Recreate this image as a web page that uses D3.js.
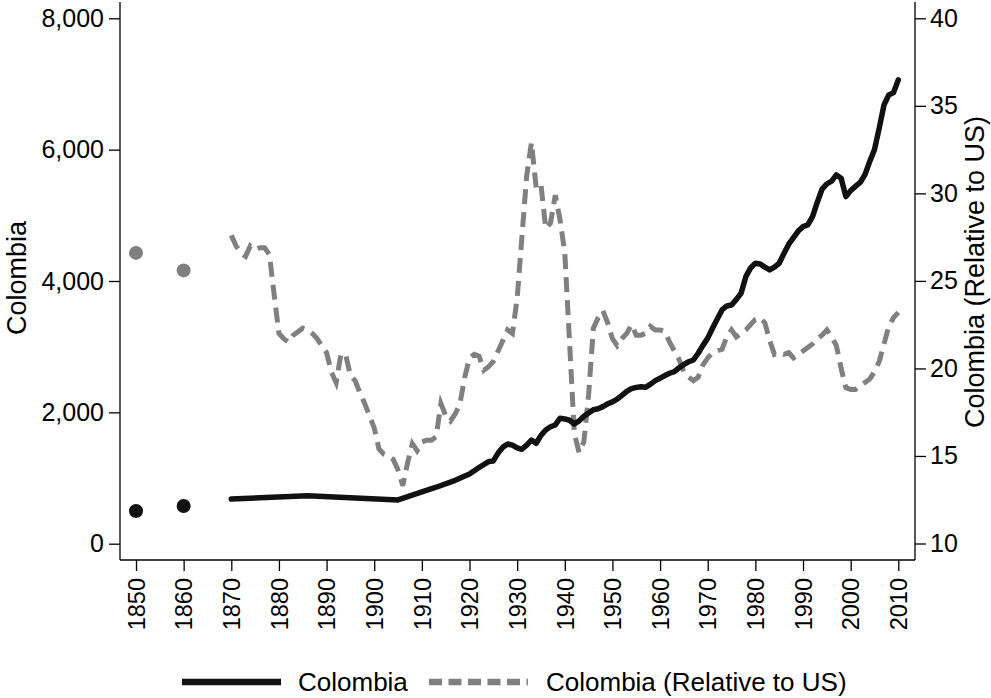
<!DOCTYPE html>
<html>
<head>
<meta charset="utf-8">
<script src="https://cdn.jsdelivr.net/npm/d3@7"></script>
<style>
  html, body { margin: 0; padding: 0; background: #fff; }
  svg { display: block; }
  text { font-family: "Liberation Sans", Arial, Helvetica, sans-serif; fill: #000; }
</style>
</head>
<body>
<svg id="chart" width="991" height="698"></svg>
<script>
// ---- Data ----
const pointYears = [1850, 1860];
const pointGdp = [498, 574];
const pointRel = [26.6, 25.6];

const gdpYears = [1870, 1886, 1905, 1910, 1913, 1917, 1920, 1922, 1924, 1925, 1926, 1927, 1928, 1929, 1930,
  1931, 1932, 1933, 1934, 1935, 1936, 1937, 1938, 1939, 1940, 1941, 1942, 1943, 1944, 1945, 1946, 1947, 1948,
  1949, 1950, 1951, 1952, 1953, 1954, 1955, 1956, 1957, 1958, 1959, 1960, 1961, 1962, 1963, 1964, 1965, 1966,
  1967, 1968, 1969, 1970, 1971, 1972, 1973, 1974, 1975, 1976, 1977, 1978, 1979, 1980, 1981, 1982, 1983, 1984,
  1985, 1986, 1987, 1988, 1989, 1990, 1991, 1992, 1993, 1994, 1995, 1996, 1997, 1998, 1999, 2000, 2001, 2002,
  2003, 2004, 2005, 2006, 2007, 2008, 2009, 2010];
const gdpValues = [680, 731, 666, 790, 860, 965, 1060, 1160, 1250, 1260, 1380, 1470, 1518, 1500, 1460,
  1438, 1500, 1579, 1529, 1650, 1732, 1780, 1808, 1910, 1900, 1880, 1823, 1870, 1940, 1990, 2040, 2055, 2087,
  2130, 2160, 2200, 2260, 2320, 2361, 2380, 2390, 2382, 2430, 2483, 2520, 2560, 2595, 2620, 2680, 2730, 2770,
  2798, 2900, 3020, 3130, 3280, 3420, 3560, 3620, 3635, 3720, 3813, 4066, 4200, 4270, 4260, 4210, 4168, 4210,
  4270, 4420, 4560, 4660, 4760, 4828, 4854, 4980, 5200, 5400, 5480, 5520, 5615, 5565, 5285, 5376, 5440, 5500,
  5620, 5820, 6000, 6330, 6681, 6833, 6868, 7062];

const relYears = d3.range(1870, 2011);
const relValues = [27.6, 27.0, 26.6, 26.4, 27.0, 26.8, 26.9, 26.9, 26.5, 24.2,
  22.0, 21.7, 21.5, 21.9, 22.1, 22.3, 22.2, 22.0, 21.7, 21.3,
  20.9, 19.8, 19.2, 20.8, 20.8, 19.6, 19.3, 18.6, 18.0, 17.3,
  16.6, 15.4, 15.1, 15.0, 14.8, 14.2, 13.3, 14.6, 15.7, 15.3,
  15.8, 15.9, 15.9, 16.1, 18.0, 17.3, 17.0, 17.4, 18.0, 19.5,
  20.6, 20.8, 20.7, 19.9, 20.1, 20.4, 21.0, 21.6, 22.2, 22.0,
  24.0, 27.5, 31.0, 32.9, 30.3, 30.5, 28.0, 28.3, 29.9, 28.5,
  26.6, 21.5, 16.3, 15.2, 15.8, 18.5, 22.3, 22.9, 23.3, 22.6,
  21.7, 21.3, 21.7, 22.0, 22.5, 21.9, 21.9, 22.0, 22.4, 22.2,
  22.2, 22.1, 21.5, 21.0, 20.5, 19.8, 19.5, 19.3, 19.5, 20.2,
  20.6, 20.9, 21.0, 21.1, 21.8, 22.2, 21.8, 22.0, 22.2, 22.5,
  22.8, 22.9, 22.6, 21.6, 20.8, 20.9, 20.8, 20.9, 20.6, 20.8,
  21.0, 21.2, 21.4, 21.7, 21.9, 22.2, 21.8, 21.3, 20.0, 18.9,
  18.8, 18.8, 19.0, 19.2, 19.4, 19.8, 20.4, 21.4, 22.4, 22.9,
  23.2];

const xTicks = d3.range(1850, 2011, 10);
const leftTicks = [0, 2000, 4000, 6000, 8000];
const rightTicks = [10, 15, 20, 25, 30, 35, 40];
const seriesNames = ["Colombia", "Colombia (Relative to US)"];
const leftTitle = "Colombia";
const rightTitle = "Colombia (Relative to US)";

// ---- Layout ----
const svg = d3.select("#chart");
const plotLeft = 120, plotRight = 915, plotBottom = 560, plotTop = 2;
const BLACK = "#111111", GRAY = "#808080";
const FS_Y = 25, FS_X = 23.5, FS_TITLE = 27, FS_LEG = 26;

const x = d3.scaleLinear().domain([1850, 2010]).range([136, 898.3]);
const yL = d3.scaleLinear().domain([0, 8000]).range([543.7, 18.3]);
const yR = d3.scaleLinear().domain([10, 40]).range([543.5, 18.3]);

// frame lines
svg.append("line").attr("x1", plotLeft).attr("x2", plotLeft).attr("y1", plotTop).attr("y2", plotBottom)
  .attr("stroke", "#000").attr("stroke-width", 1.3);
svg.append("line").attr("x1", plotRight).attr("x2", plotRight).attr("y1", plotTop).attr("y2", plotBottom)
  .attr("stroke", "#000").attr("stroke-width", 1.3);

// axes
const fmt = d3.format(",");
const axL = svg.append("g").attr("transform", `translate(${plotLeft},0)`)
  .call(d3.axisLeft(yL).tickValues(leftTicks).tickFormat(fmt).tickSize(11).tickPadding(5));
const axR = svg.append("g").attr("transform", `translate(${plotRight},0)`)
  .call(d3.axisRight(yR).tickValues(rightTicks).tickSize(11).tickPadding(4));
const axB = svg.append("g").attr("transform", `translate(0,${plotBottom})`)
  .call(d3.axisBottom(x).tickValues(xTicks).tickFormat(d3.format("d")).tickSize(11).tickPadding(6));
[axL, axR, axB].forEach(a => {
  a.select(".domain").remove();
  a.selectAll(".tick line").attr("stroke", "#000").attr("stroke-width", 1.3);
  a.selectAll(".tick text").attr("fill", "#000")
    .style("font-family", '"Liberation Sans", Arial, sans-serif');
});
axL.selectAll(".tick text").attr("font-size", FS_Y);
axR.selectAll(".tick text").attr("font-size", FS_Y);
svg.append("line").attr("x1", plotLeft).attr("x2", plotRight).attr("y1", plotBottom).attr("y2", plotBottom)
  .attr("stroke", "#000").attr("stroke-width", 1.3);
axB.selectAll(".tick text")
  .attr("font-size", FS_X)
  .attr("transform", "rotate(-90)")
  .attr("text-anchor", "end")
  .attr("dy", "0.35em")
  .attr("x", -18)
  .attr("y", 0);

// axis titles
svg.append("text").attr("transform", `translate(26,278) rotate(-90)`)
  .attr("text-anchor", "middle").attr("font-size", FS_TITLE).text(leftTitle);
svg.append("text").attr("transform", `translate(984,272) rotate(-90)`)
  .attr("text-anchor", "middle").attr("font-size", FS_TITLE).text(rightTitle);

// lines
const gdpData = gdpYears.map((yr, i) => ({ yr, v: gdpValues[i] }));
const relData = relYears.map((yr, i) => ({ yr, v: relValues[i] }));

svg.append("path").datum(relData)
  .attr("fill", "none").attr("stroke", GRAY).attr("stroke-width", 5)
  .attr("stroke-dasharray", "15,8")
  .attr("d", d3.line().x(d => x(d.yr)).y(d => yR(d.v)));

svg.append("path").datum(gdpData)
  .attr("fill", "none").attr("stroke", BLACK).attr("stroke-width", 5.5)
  .attr("stroke-linejoin", "round").attr("stroke-linecap", "round")
  .attr("d", d3.line().x(d => x(d.yr)).y(d => yL(d.v)));

// points
svg.selectAll("circle.rel").data(pointYears).enter().append("circle")
  .attr("class", "rel").attr("cx", d => x(d)).attr("cy", (d, i) => yR(pointRel[i]))
  .attr("r", 7).attr("fill", GRAY);
svg.selectAll("circle.gdp").data(pointYears).enter().append("circle")
  .attr("class", "gdp").attr("cx", d => x(d)).attr("cy", (d, i) => yL(pointGdp[i]))
  .attr("r", 7).attr("fill", BLACK);

// legend
const lg = svg.append("g");
lg.append("line").attr("x1", 182).attr("x2", 281).attr("y1", 682).attr("y2", 682)
  .attr("stroke", BLACK).attr("stroke-width", 6.5);
lg.append("text").attr("x", 298).attr("y", 682).attr("dy", "0.35em").attr("font-size", FS_LEG).text(seriesNames[0]);
lg.append("line").attr("x1", 429).attr("x2", 528).attr("y1", 682).attr("y2", 682)
  .attr("stroke", GRAY).attr("stroke-width", 6.5).attr("stroke-dasharray", "13,6.5");
lg.append("text").attr("x", 546).attr("y", 682).attr("dy", "0.35em").attr("font-size", FS_LEG).text(seriesNames[1]);
</script>
</body>
</html>
